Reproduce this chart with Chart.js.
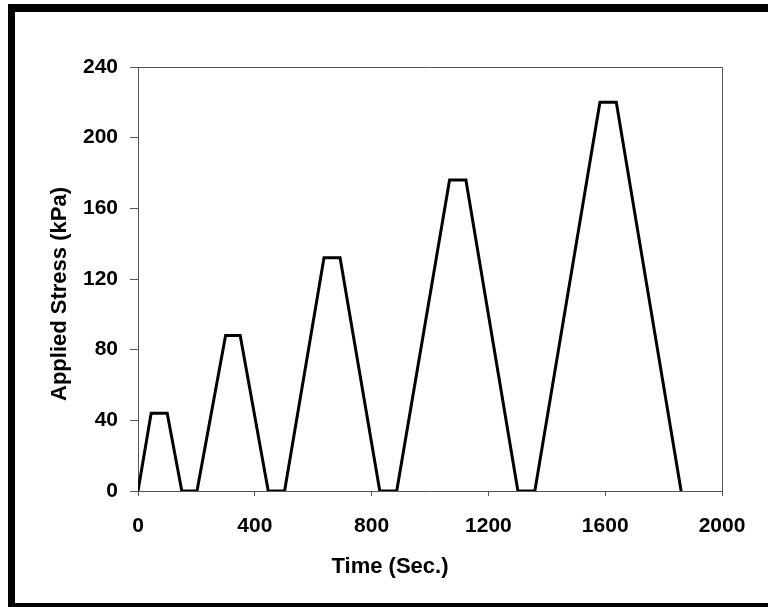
<!DOCTYPE html>
<html>
<head>
<meta charset="utf-8">
<script src="https://cdn.jsdelivr.net/npm/chart.js@4/dist/chart.umd.min.js"></script>
<style>
  html, body { margin: 0; padding: 0; background: #fff; }
  #wrap { width: 768px; height: 607px; position: relative; }
</style>
</head>
<body>
<div id="wrap"><canvas id="c" width="768" height="607"></canvas></div>
<script>
// Data
const timeSec = [0, 45, 100, 150, 202, 300, 350, 446, 502, 637, 692, 828, 886, 1067, 1123, 1301, 1359, 1582, 1638, 1860];
const stressKPa = [0, 44, 44, 0, 0, 88, 88, 0, 0, 132, 132, 0, 0, 176, 176, 0, 0, 220, 220, 0];
const xTitle = 'Time (Sec.)';
const yTitle = 'Applied Stress (kPa)';

const points = timeSec.map((t, i) => ({ x: t, y: stressKPa[i] }));
const FONT_FAMILY = '"Liberation Sans", Arial, sans-serif';
const tickFont = { family: FONT_FAMILY, size: 21, weight: 'bold' };

const frame = {
  id: 'frame',
  beforeDraw(chart) {
    const ctx = chart.ctx;
    ctx.save();
    ctx.fillStyle = '#fff';
    ctx.fillRect(0, 0, chart.width, chart.height);
    ctx.fillStyle = '#000';
    ctx.fillRect(8, 4, 760, 8);    // top bar
    ctx.fillRect(8, 4, 7, 603);    // left bar
    ctx.fillRect(8, 603, 760, 4);  // bottom bar
    ctx.restore();
  },
  beforeDatasetsDraw(chart) {
    const a = chart.chartArea;
    const ctx = chart.ctx;
    ctx.save();
    ctx.strokeStyle = '#555';
    ctx.lineWidth = 1;
    ctx.beginPath();
    ctx.moveTo(a.left, a.top + 0.5);
    ctx.lineTo(a.right + 0.5, a.top + 0.5);
    ctx.lineTo(a.right + 0.5, a.bottom);
    ctx.stroke();
    ctx.restore();
  },
  afterDraw(chart) {
    const ctx = chart.ctx;
    ctx.save();
    ctx.fillStyle = '#000';
    ctx.font = 'bold 22px ' + FONT_FAMILY;
    ctx.textAlign = 'center';
    ctx.textBaseline = 'middle';
    ctx.fillText(xTitle, 390, 567);
    ctx.translate(60, 294);
    ctx.rotate(-Math.PI / 2);
    ctx.fillText(yTitle, 0, 0);
    ctx.restore();
  }
};

new Chart(document.getElementById('c'), {
  type: 'line',
  data: {
    datasets: [{
      data: points,
      borderColor: '#000',
      borderWidth: 3,
      pointRadius: 0,
      tension: 0,
      fill: false,
      borderJoinStyle: 'miter'
    }]
  },
  options: {
    responsive: false,
    animation: false,
    devicePixelRatio: 1,
    layout: { padding: { left: 0, top: 67, right: 46, bottom: 0 } },
    plugins: { legend: { display: false }, tooltip: { enabled: false } },
    scales: {
      x: {
        type: 'linear',
        min: 0, max: 2000,
        afterFit(s) { s.height = 116; },
        ticks: { stepSize: 400, color: '#000', font: tickFont, padding: 18, maxRotation: 0,
                 callback: (v) => String(v) },
        grid: { drawOnChartArea: false, drawTicks: true, tickLength: 5, tickColor: '#555', color: '#555' },
        border: { color: '#555', width: 1 },
        title: { display: false }
      },
      y: {
        min: 0, max: 240,
        afterFit(s) { s.width = 138; },
        ticks: { stepSize: 40, color: '#000', font: tickFont, padding: 12, callback: (v) => String(v) },
        grid: { drawOnChartArea: false, drawTicks: true, tickLength: 8, tickColor: '#555', color: '#555' },
        border: { color: '#555', width: 1 },
        title: { display: false }
      }
    }
  },
  plugins: [frame]
});
</script>
</body>
</html>
